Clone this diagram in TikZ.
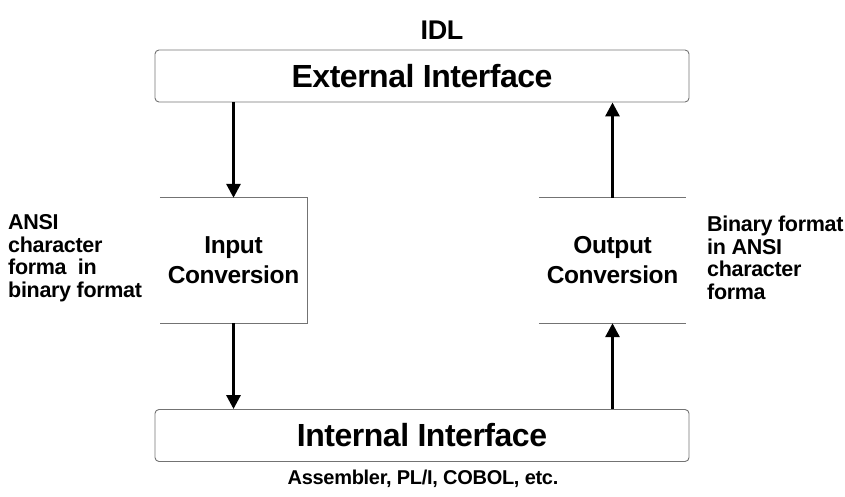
\documentclass[tikz,border=0pt]{standalone}
\usepackage{fontspec}
\setmainfont{Liberation Sans}[LetterSpace=-1.5]
\usetikzlibrary{arrows.meta,positioning}

\begin{document}
\begin{tikzpicture}[x=1pt,y=-1pt,
        iface/.style={draw=black!55,line width=0.9pt,rounded corners=4pt,
                      minimum width=534pt,minimum height=52pt,
                      font=\bfseries\fontsize{32}{36}\selectfont},
        conv/.style={minimum width=147pt,minimum height=125pt,align=center,
                     font=\bfseries\fontsize{24.5}{30}\selectfont},
        side/.style={align=left,inner sep=0pt,
                     font=\bfseries\fontsize{21.5}{22.5}\selectfont},
        cvline/.style={draw=black!55,line width=0.9pt},
        flow/.style={line width=3pt,-{Triangle[length=14pt,width=14pt]}}]

        \useasboundingbox (0,0) rectangle (845,497);

        \node[font=\bfseries\fontsize{27}{30}\selectfont] (idl) at (442,30) {IDL};
        \node[iface] (ext) at (422,76) {External Interface};
        \node[conv] (inconv)  at (233.5,260.5) {Input\\Conversion};
        \node[conv] (outconv) at (612.5,260.5) {Output\\Conversion};
        \node[iface] (int) at (422,435.5) {Internal Interface};
        \node[font=\bfseries\fontsize{20}{22}\selectfont] (lang) at (423,479)
             {Assembler, PL/I, COBOL, etc.};

        % side notes
        \node[side,anchor=west] (inlbl)  at (8,258)
             {ANSI\\character\\forma\ \ in\\binary format};
        \node[side,anchor=west] (outlbl) at (707,258)
             {Binary format\\in ANSI\\character\\forma};

        % conversion boxes
        \draw[cvline] (inconv.north west) -- (inconv.north east)
                   -- (inconv.south east) -- (inconv.south west);
        \draw[cvline] (outconv.north west) -- (outconv.north east);
        \draw[cvline] (outconv.south west) -- (outconv.south east);

        \draw[flow] (ext.south -| inconv) -- (inconv.north);
        \draw[flow] (inconv.south) -- (int.north -| inconv);
        \draw[flow] (int.north -| outconv) -- (outconv.south);
        \draw[flow] (outconv.north) -- (ext.south -| outconv);
      \end{tikzpicture}
\end{document}
